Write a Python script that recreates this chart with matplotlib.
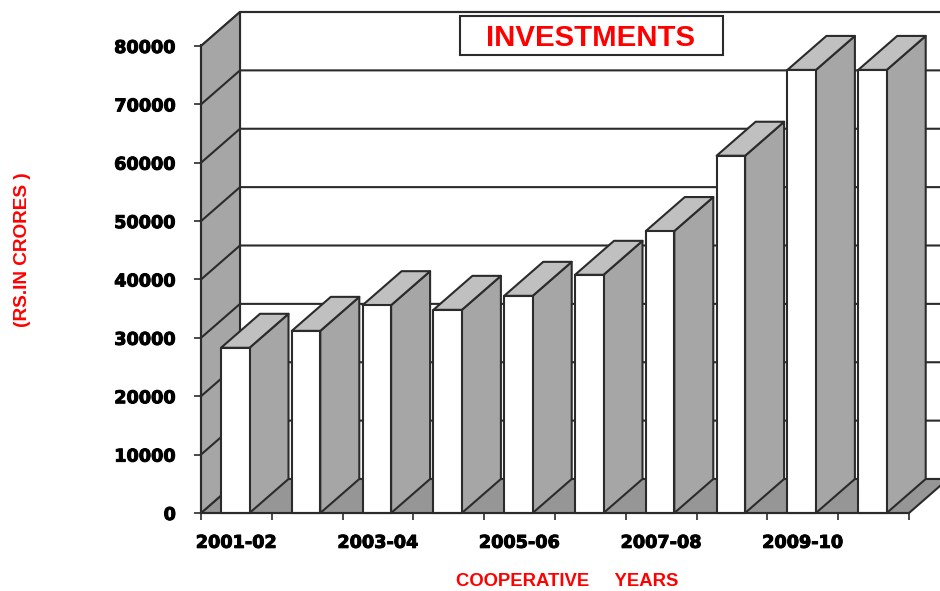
import numpy as np
import matplotlib.pyplot as plt
import matplotlib.patheffects as pe
from matplotlib.patches import Polygon, Rectangle

years = ['2001-02', '2002-03', '2003-04', '2004-05', '2005-06',
         '2006-07', '2007-08', '2008-09', '2009-10', '2010-11']
investments = [28300, 31200, 35600, 34800, 37200, 40800, 48300, 61200, 75900, 75900]
y_ticks = [0, 10000, 20000, 30000, 40000, 50000, 60000, 70000, 80000]

W, H = 940, 591
LINE = '#2b2b2b'
WALL = '#a6a6a6'
FLOOR = '#969696'
TOP = '#c0c0c0'
RED = '#ff0000'
LW = 1.5

fig = plt.figure(figsize=(W / 100, H / 100), dpi=100)
ax = fig.add_axes([201 / W, (H - 513) / H, 708 / W, 468 / H])
ax.set_xlim(0, len(years))
ax.set_ylim(0, 80000 * 468 / 467)
ax.patch.set_visible(False)

# depth of the fake 3d box, in data units
ddx = 39 / 70.8
ddy = 34 / 467 * 80000
ymax = y_ticks[-1]
n = len(years)


def poly(pts, fc, z, lw=LW):
    ax.add_patch(Polygon(pts, closed=True, fc=fc, ec=LINE, lw=lw, zorder=z,
                         clip_on=False, joinstyle='round'))


# back wall and its grid
poly([(ddx, ddy), (n + ddx, ddy), (n + ddx, ymax + ddy), (ddx, ymax + ddy)], 'white', 1)
for v in y_ticks[1:]:
    ax.plot([0, ddx, n + ddx], [v, v + ddy, v + ddy], color=LINE, lw=LW, zorder=2, clip_on=False)

# floor and left wall
poly([(0, 0), (n, 0), (n + ddx, ddy), (ddx, ddy)], FLOOR, 3)
poly([(0, 0), (ddx, ddy), (ddx, ymax + ddy), (0, ymax)], WALL, 3)
for v in y_ticks[1:-1]:
    ax.plot([0, ddx], [v, v + ddy], color=LINE, lw=LW, zorder=4, clip_on=False)

# bars
bar_w = 28.5 / 70.8
for i, val in enumerate(investments):
    x0 = i + 20 / 70.8
    x1 = x0 + bar_w
    z = 10 + i
    poly([(x1, 0), (x1 + ddx, ddy), (x1 + ddx, val + ddy), (x1, val)], WALL, z)
    poly([(x0, val), (x1, val), (x1 + ddx, val + ddy), (x0 + ddx, val + ddy)], TOP, z)
    poly([(x0, 0), (x1, 0), (x1, val), (x0, val)], 'white', z)

# axes
for s in ['top', 'right']:
    ax.spines[s].set_visible(False)
for s in ['left', 'bottom']:
    ax.spines[s].set_color(LINE)
    ax.spines[s].set_linewidth(LW)
    ax.spines[s].set_zorder(30)

heavy = [pe.withStroke(linewidth=0.7, foreground='black')]
ax.set_yticks(y_ticks)
ylabels = ax.set_yticklabels([str(v) for v in y_ticks], family='DejaVu Sans', fontweight='bold', fontsize=12.7)
ax.set_xticks(np.arange(n + 1))
ax.set_xticklabels([])
ax.set_xticks(np.arange(0.5, n, 2), minor=True)
xlabels = ax.set_xticklabels(years[::2], minor=True, family='DejaVu Sans', fontweight='bold', fontsize=12.7)
for t in ylabels + xlabels:
    t.set_path_effects(heavy)
ax.tick_params(axis='y', length=5, width=1.2, color=LINE, pad=13)
ax.tick_params(axis='x', which='major', length=5, width=1.2, color=LINE)
ax.tick_params(axis='x', which='minor', length=0, pad=15)

# title box and axis titles
fig.add_artist(Rectangle((460 / W, 1 - 55 / H), 263 / W, 39 / H, fc='white', ec=LINE, lw=LW,
                         transform=fig.transFigure, zorder=40))
fig.text(591 / W, 1 - 38.5 / H, 'INVESTMENTS', color=RED, family='Liberation Sans', fontweight='bold',
         fontsize=21.2, ha='center', va='center', zorder=41)
fig.text(567 / W, 1 - 581 / H, 'COOPERATIVE     YEARS', color=RED, family='Liberation Sans',
         fontweight='bold', fontsize=13.3, ha='center', va='center')
fig.text(23 / W, 1 - 250 / H, '(RS.IN CRORES )', color=RED, family='Liberation Sans',
         fontweight='bold', fontsize=13.7, rotation=90, ha='center', va='center')

fig.savefig('out.png', dpi=100)
